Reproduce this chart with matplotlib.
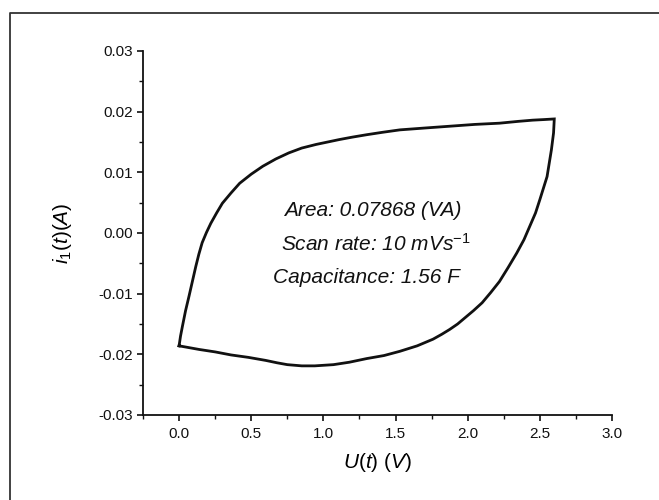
import matplotlib
matplotlib.use("Agg")
import matplotlib.pyplot as plt
from matplotlib.lines import Line2D
from matplotlib.ticker import MultipleLocator, FormatStrFormatter

plt.rcParams['font.family'] = ['Liberation Sans', 'DejaVu Sans']
plt.rcParams['mathtext.fontset'] = 'custom'
plt.rcParams['mathtext.rm'] = 'Liberation Sans'
plt.rcParams['mathtext.it'] = 'Liberation Sans:italic'
plt.rcParams['mathtext.bf'] = 'Liberation Sans:bold'

# Forward (anodic) sweep
voltage_fwd = [0.0, 0.01, 0.023, 0.045, 0.069, 0.092, 0.116, 0.137, 0.16,
               0.19, 0.22, 0.26, 0.30, 0.36, 0.42, 0.50, 0.58, 0.67, 0.76,
               0.85, 0.95, 1.03, 1.11, 1.20, 1.30, 1.41, 1.53, 1.70, 1.875,
               2.05, 2.22, 2.35, 2.45, 2.53, 2.6]
current_fwd = [-0.0186, -0.0170, -0.0154, -0.0128, -0.0104, -0.0080, -0.0055,
               -0.0035, -0.0016, 0.0001, 0.0016, 0.0033, 0.0049, 0.0066,
               0.0082, 0.0097, 0.0110, 0.0122, 0.0132, 0.0140, 0.0146,
               0.0150, 0.0154, 0.0158, 0.0162, 0.0166, 0.0170, 0.0173,
               0.0176, 0.0179, 0.0181, 0.0184, 0.0186, 0.0187, 0.0188]
# Reverse (cathodic) sweep
voltage_rev = [2.6, 2.595, 2.58, 2.565, 2.55, 2.525, 2.5, 2.47, 2.43, 2.39,
               2.34, 2.28, 2.22, 2.16, 2.10, 2.04, 1.98, 1.93, 1.875, 1.82,
               1.76, 1.65, 1.53, 1.42, 1.30, 1.18, 1.07, 0.94, 0.85, 0.75,
               0.68, 0.60, 0.48, 0.36, 0.25, 0.14, 0.07, 0.0]
current_rev = [0.0188, 0.0165, 0.0137, 0.0115, 0.0093, 0.0074, 0.0055, 0.0033,
               0.0011, -0.0011, -0.0033, -0.0057, -0.0080, -0.0098, -0.0115,
               -0.0128, -0.0140, -0.0150, -0.0159, -0.0167, -0.0175, -0.0186,
               -0.0195, -0.0202, -0.0207, -0.0213, -0.0217, -0.0219, -0.0219,
               -0.0217, -0.0214, -0.0210, -0.0205, -0.0201, -0.0196, -0.0192,
               -0.0189, -0.0186]

annotation_lines = ["Area: 0.07868 (VA)",
                    "Scan rate: 10 mVs$^{-1}$",
                    "Capacitance: 1.56 F"]

fig = plt.figure(figsize=(6.59, 5.0), dpi=100)
ax = fig.add_axes([143/659, 1-415/500, (612-143)/659, (415-51)/500])

V = voltage_fwd + voltage_rev[1:]
I = current_fwd + current_rev[1:]
ax.plot(V, I, color='#111111', lw=2.0, solid_joinstyle='miter')

ax.set_xlim(-0.25, 3.0)
ax.set_ylim(-0.03, 0.03)
ax.xaxis.set_major_locator(MultipleLocator(0.5))
ax.xaxis.set_minor_locator(MultipleLocator(0.25))
ax.yaxis.set_major_locator(MultipleLocator(0.01))
ax.yaxis.set_minor_locator(MultipleLocator(0.005))
ax.xaxis.set_major_formatter(FormatStrFormatter('%.1f'))
ax.yaxis.set_major_formatter(FormatStrFormatter('%.2f'))

for s in ['top', 'right']:
    ax.spines[s].set_visible(False)
for s in ['left', 'bottom']:
    ax.spines[s].set_linewidth(1.3)
    ax.spines[s].set_color('#111111')

ax.tick_params(which='major', direction='out', length=4.5, width=1.2,
               colors='#111111', labelsize=11)
ax.tick_params(which='minor', direction='out', length=2.8, width=1.0,
               colors='#111111')
ax.tick_params(axis='x', which='major', pad=4.5)
ax.tick_params(axis='y', which='major', pad=2.5)

ax.set_xlabel(r'$U(t)$ $(V)$', fontsize=15, labelpad=7)
ax.set_ylabel(r'$i_1(t)(A)$', fontsize=15)
ax.yaxis.set_label_coords(-0.148, 0.5)

text_x = [0.729, 0.708, 0.653]
text_y = [0.00275, -0.0029, -0.0082]
for s, x, y in zip(annotation_lines, text_x, text_y):
    ax.text(x, y, s, fontsize=15, fontstyle='italic', ha='left', va='baseline',
            color='#111111')

# outer frame (top and left edges)
fy = 1 - 13/500
fx = 10/659
fig.add_artist(Line2D([fx, fx, 1.0], [0.0, fy, fy], transform=fig.transFigure,
                      color='#333333', lw=1.3))

fig.savefig('out.png', dpi=100)
